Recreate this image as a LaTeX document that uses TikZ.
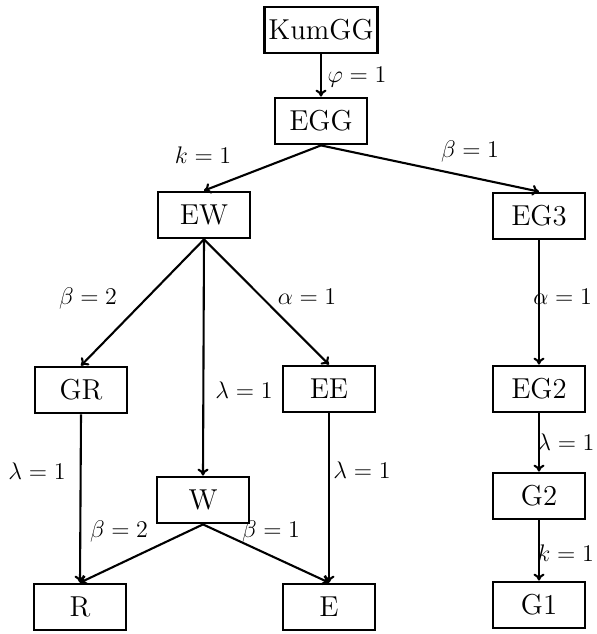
\documentclass[tikz,border=0pt]{standalone}
\usetikzlibrary{arrows.meta}
\begin{document}
\begin{tikzpicture}[x=0.5pt,y=-0.5pt,
  box/.style={draw,line width=1.4pt,minimum width=46pt,minimum height=23pt,inner sep=2pt,font=\fontsize{14.4}{17}\selectfont},
  conn/.style={line width=1.05pt,-{To[length=3.5pt,width=5.5pt]}},
  lab/.style={font=\fontsize{12.4}{14}\selectfont,inner sep=0pt}]
\useasboundingbox (0,0) rectangle (597,634);
\node[box] (kum) at (321,30) {KumGG};
\node[box] (egg) at (321,121) {EGG};
\node[box] (ew) at (204,215) {EW};
\node[box] (eg3) at (539,216) {EG3};
\node[box] (gr) at (81,390) {GR};
\node[box] (ee) at (329,389) {EE};
\node[box] (eg2) at (539,389) {EG2};
\node[box] (w) at (203,500) {W};
\node[box] (g2) at (539,496) {G2};
\node[box] (r) at (80,607) {R};
\node[box] (e) at (329,607) {E};
\node[box] (g1) at (539,605) {G1};
\draw[conn] (kum.south) -- (egg.north);
\draw[conn] (egg.south) -- (ew.north);
\draw[conn] (egg.south) -- (eg3.north);
\draw[conn] (ew.south) -- (gr.north);
\draw[conn] (ew.south) -- (w.north);
\draw[conn] (ew.south) -- (ee.north);
\draw[conn] (eg3.south) -- (eg2.north);
\draw[conn] (eg2.south) -- (g2.north);
\draw[conn] (g2.south) -- (g1.north);
\draw[conn] (gr.south) -- (r.north);
\draw[conn] (ee.south) -- (e.north);
\draw[conn] (w.south) -- (r.north);
\draw[conn] (w.south) -- (e.north);
\node[lab] (l1) at (357,77) {$\varphi=1$};
\node[lab] (l2) at (203,155) {$k=1$};
\node[lab] (l3) at (470,151) {$\beta=1$};
\node[lab] (l4) at (88,298) {$\beta=2$};
\node[lab] (l5) at (307,297) {$\alpha=1$};
\node[lab,anchor=west] (l6) at (533,297) {$\alpha=1$};
\node[lab] (l7) at (244,390) {$\lambda=1$};
\node[lab] (l8) at (37,471) {$\lambda=1$};
\node[lab] (l9) at (362,470) {$\lambda=1$};
\node[lab,anchor=west] (l10) at (537,442) {$\lambda=1$};
\node[lab,anchor=west] (l11) at (537,553) {$k=1$};
\node[lab] (l12) at (119,531) {$\beta=2$};
\node[lab] (l13) at (271,531) {$\beta=1$};
\end{tikzpicture}
\end{document}
